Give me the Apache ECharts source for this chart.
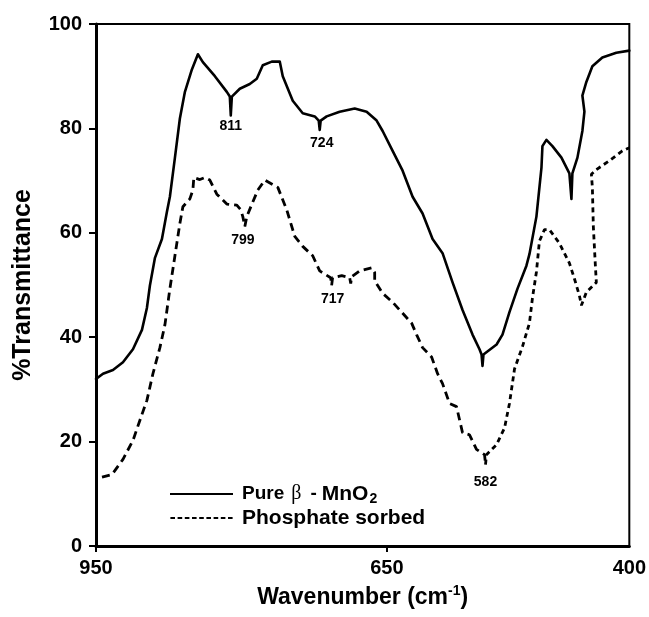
<!DOCTYPE html>
<html>
<head>
<meta charset="utf-8">
<script src="https://cdn.jsdelivr.net/npm/echarts@6/dist/echarts.min.js"></script>
<style>html,body{margin:0;padding:0;background:#fff}#c{width:649px;height:617px}</style>
</head>
<body>
<div id="c"></div>
<script>
// ---- data ----
const seriesNames = ['Pure \u03b2 - MnO2', 'Phosphate sorbed'];

const pureWavenumber = [950, 942.8, 932.5, 922.2, 911.9, 902.6, 897.5, 894.4, 889.2, 882.0,
  876.9, 873.8, 868.6, 863.5, 858.3, 851.1, 844.9, 839.8, 827.4, 815.1,
  812.0, 811.0, 809.9, 801.7, 791.4, 784.2, 778.0, 768.7, 760.5, 757.4,
  747.1, 736.8, 724.4, 720.3, 719.3, 718.3, 712.1, 698.7, 683.2, 670.9,
  660.6, 654.4, 644.1, 633.8, 623.5, 613.2, 602.9, 592.6, 582.3, 572.0,
  561.7, 554.5, 552.4, 551.4, 550.4, 536.9, 530.8, 523.6, 515.3, 506.1,
  503.0, 495.8, 490.6, 489.6, 485.5, 479.3, 470.0, 461.8, 459.7, 458.7,
  453.5, 448.4, 446.3, 448.4, 444.3, 438.1, 427.8, 413.4, 400];
const pureT = [32.0, 33.0, 33.7, 35.2, 37.7, 41.4, 45.6, 49.9, 55.2, 58.8,
  64.0, 66.9, 74.4, 81.9, 87.0, 91.3, 94.2, 92.7, 90.0, 87.0,
  86.1, 82.5, 86.1, 87.6, 88.5, 89.5, 92.1, 92.8, 92.8, 90.0,
  85.3, 82.9, 82.3, 81.5, 79.7, 81.5, 82.3, 83.2, 83.8, 83.2,
  81.5, 79.5, 75.7, 71.9, 66.9, 63.7, 58.8, 56.1, 50.5, 45.2,
  40.5, 37.7, 36.7, 34.5, 36.7, 38.6, 40.5, 44.8, 49.3, 53.7,
  55.9, 63.1, 72.5, 76.6, 77.8, 76.6, 74.4, 71.4, 66.5, 71.4,
  74.4, 79.5, 83.2, 86.3, 88.9, 91.9, 93.6, 94.5, 94.9];

const phosWavenumberA = [943.8, 933.5, 922.2, 911.9, 904.7, 897.5, 891.3, 884.1, 878.9, 873.8,
  868.6, 863.5, 860.4, 853.2, 850.1, 849.1, 842.9, 837.7, 832.6, 825.4,
  815.1, 804.8, 800.7, 798.6, 796.5, 794.5, 788.3, 783.1, 775.9, 762.5,
  753.3, 745.0, 736.8, 726.5, 719.3, 708.0, 707.0, 706.0, 696.6, 688.4,
  687.3, 686.3, 678.1, 665.7, 662.6, 662.6, 654.4, 644.1, 634.8, 624.5,
  619.4, 613.2, 603.9, 597.7, 592.6, 585.4, 578.2, 572.0, 564.8, 557.6,
  549.3, 548.3];
const phosTA = [13.2, 13.7, 16.6, 20.2, 24.1, 27.9, 33.0, 38.0, 42.4, 49.3,
  55.6, 61.8, 65.0, 66.5, 68.2, 70.6, 70.2, 70.6, 70.1, 67.4,
  65.5, 65.3, 64.4, 63.1, 61.2, 63.1, 65.9, 68.2, 70.1, 68.7,
  64.4, 59.3, 57.4, 55.6, 52.7, 51.4, 49.9, 51.4, 51.8, 51.4,
  50.3, 51.6, 52.7, 53.3, 52.4, 50.8, 48.4, 46.7, 44.8, 42.7,
  40.5, 38.0, 36.2, 33.0, 31.1, 27.3, 26.7, 21.7, 21.3, 18.5,
  17.5, 15.6];
const phosWavenumberB = [548.3, 547.3, 537.0, 528.7, 523.6, 518.4, 510.2, 503.0, 499.9, 495.8,
  492.7, 487.5, 482.4, 477.2, 472.1, 461.8, 456.6, 451.5, 449.4, 444.3,
  434.0, 435.0, 437.1, 438.1, 439.1, 434.0, 420.6, 407.2, 400];
const phosTB = [15.6, 17.5, 19.4, 22.6, 27.3, 33.9, 38.2, 42.7, 47.5, 52.5,
  58.4, 60.6, 60.6, 59.3, 58.0, 54.2, 51.2, 48.0, 46.1, 48.6,
  50.5, 53.7, 61.2, 68.7, 71.2, 72.1, 73.8, 75.7, 76.3];

const peakLabels = ['811', '724', '799', '717', '582'];
const peakLabelW = [811, 717.2, 798.6, 705.9, 548.3];
const peakLabelT = [80.4, 77.2, 58.6, 47.3, 12.2];

const xTickValues = [950, 650, 400];
const xTickMarks = [950, 650];

// ---- chart ----
const zip = (a, b) => a.map((v, i) => [v, b[i]]);
const FONT = '"Liberation Sans", Arial, Helvetica, sans-serif';

const solidIcon = 'path://M0,0h63v2h-63z';
let dashPath = '';
for (let i = 0; i < 9; i++) { const s = (i * 7.2).toFixed(1); dashPath += 'M' + s + ',0h4.6v2h-4.6z'; }
const dashIcon = 'path://' + dashPath;

const chart = echarts.init(document.getElementById('c'), null, {renderer: 'canvas'});
chart.setOption({
  animation: false,
  backgroundColor: '#fff',
  textStyle: {fontFamily: FONT},
  grid: {left: 96, right: 19, top: 24, bottom: 62, show: true, borderColor: '#000', borderWidth: 2, backgroundColor: 'transparent'},
  xAxis: {
    type: 'value', min: 400, max: 950, inverse: true,
    axisLine: {show: true, onZero: false, lineStyle: {color: '#000', width: 3}},
    axisTick: {show: true, inside: false, length: 6, customValues: xTickMarks, lineStyle: {color: '#000', width: 2}},
    axisLabel: {show: true, customValues: xTickValues, color: '#000', fontSize: 20, fontWeight: 'bold', fontFamily: FONT, margin: 12, showMinLabel: true, showMaxLabel: true},
    splitLine: {show: false},
    name: 'Wavenumber (cm{sup|-1})',
    nameLocation: 'middle', nameGap: 38,
    nameTextStyle: {color: '#000', fontSize: 23, fontWeight: 'bold', fontFamily: FONT, lineHeight: 28,
      rich: {sup: {fontSize: 14, fontWeight: 'bold', fontFamily: FONT, color: '#000', verticalAlign: 'top', lineHeight: 14}}}
  },
  yAxis: {
    type: 'value', min: 0, max: 100, interval: 20,
    axisLine: {show: true, onZero: false, lineStyle: {color: '#000', width: 3}},
    axisTick: {show: true, inside: false, length: 7, lineStyle: {color: '#000', width: 2}},
    axisLabel: {color: '#000', fontSize: 20, fontWeight: 'bold', fontFamily: FONT, margin: 14},
    splitLine: {show: false},
    name: '%Transmittance', nameLocation: 'middle', nameGap: 60, nameRotate: 90,
    nameTextStyle: {color: '#000', fontSize: 25, fontWeight: 'bold', fontFamily: FONT}
  },
  legend: {
    orient: 'vertical', left: 165, top: 477, itemWidth: 63, itemHeight: 2, itemGap: 0,
    data: [{name: seriesNames[0], icon: solidIcon}, {name: seriesNames[1], icon: dashIcon}],
    itemStyle: {color: '#000'},
    formatter: function (n) {
      return n === seriesNames[0] ? '{a|Pure}{beta|\u03b2}{a|-}{m|MnO}{sub|2}' : '{p|' + n + '}';
    },
    textStyle: {color: '#000', fontSize: 19, fontWeight: 'bold', fontFamily: FONT, lineHeight: 24, padding: [0, 0, 0, 4],
      rich: {
        a: {fontSize: 19, fontWeight: 'bold', fontFamily: FONT, color: '#000', lineHeight: 24},
        m: {fontSize: 21, fontWeight: 'bold', fontFamily: FONT, color: '#000', lineHeight: 24, padding: [0, 0, 0, 5]},
        p: {fontSize: 21, fontWeight: 'bold', fontFamily: FONT, color: '#000', lineHeight: 24},
        beta: {fontSize: 20, fontWeight: 'normal', fontFamily: '"Liberation Serif", "DejaVu Serif", serif', color: '#000', lineHeight: 24, padding: [0, 9, 0, 7]},
        sub: {fontSize: 14, fontWeight: 'bold', fontFamily: FONT, color: '#000', verticalAlign: 'bottom', lineHeight: 12, padding: [0, 0, 0, 1]}
      }}
  },
  series: [
    {name: seriesNames[0], type: 'line', data: zip(pureWavenumber, pureT), showSymbol: false, symbol: 'none',
      lineStyle: {color: '#000', width: 2.6, join: 'round', cap: 'round'}, itemStyle: {color: '#000'}},
    {name: seriesNames[1], type: 'line', data: zip(phosWavenumberA, phosTA), showSymbol: false, symbol: 'none',
      lineStyle: {color: '#000', width: 2.8, type: [8, 5]}, itemStyle: {color: '#000'}},
    {name: 'phos2', type: 'line', data: zip(phosWavenumberB, phosTB), showSymbol: false, symbol: 'none',
      lineStyle: {color: '#000', width: 2.8, type: [5, 4]}, itemStyle: {color: '#000'}},
    {name: 'labels', type: 'scatter', symbolSize: 0.01, itemStyle: {color: '#000', opacity: 1},
      data: peakLabels.map((t, i) => ({value: [peakLabelW[i], peakLabelT[i]], name: t})),
      label: {show: true, position: 'inside', formatter: p => p.name, color: '#000', fontSize: 14, fontWeight: 'bold', fontFamily: FONT},
      silent: true}
  ]
});
</script>
</body>
</html>
